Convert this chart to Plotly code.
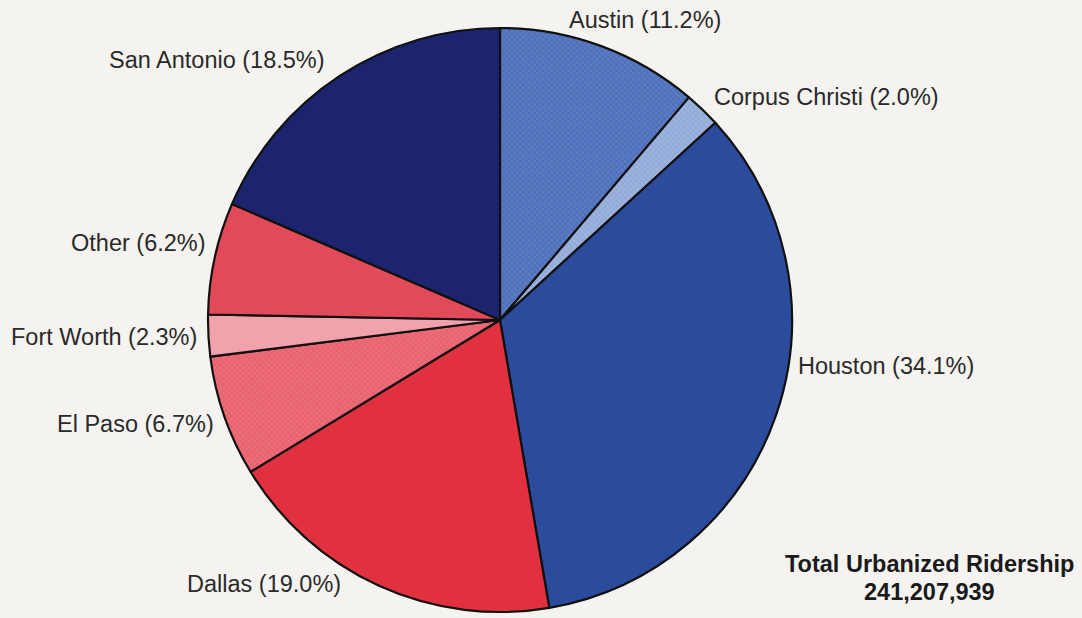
import plotly.graph_objects as go

cities = ["Austin", "Corpus Christi", "Houston", "Dallas", "El Paso",
          "Fort Worth", "Other", "San Antonio"]
shares = [11.2, 2.0, 34.1, 19.0, 6.7, 2.3, 6.2, 18.5]
total_label = "Total Urbanized Ridership"
total_value = "241,207,939"

colors = ["#4f71bb", "#93abd9", "#2b4b9d", "#e1313f", "#e9626f",
          "#f2a2ac", "#e24a5a", "#1c2470"]
pattern_shapes = ["x", "x", "", "", "x", "", "", ""]
pattern_fg = ["#7d97d0", "#b8c8e8", "#2b4b9d", "#e1313f", "#f08a94",
              "#f2a2ac", "#e24a5a", "#1c2470"]

W, H = 1082, 618
cx, cy, r = 500, 320, 292

fig = go.Figure(go.Pie(
    labels=cities,
    values=shares,
    sort=False,
    direction="clockwise",
    rotation=0,
    textinfo="none",
    hoverinfo="label+percent",
    showlegend=False,
    marker=dict(
        colors=colors,
        line=dict(color="#111111", width=2.2),
        pattern=dict(shape=pattern_shapes, fgcolor=pattern_fg,
                     size=4, solidity=0.35, fillmode="overlay"),
    ),
    domain=dict(x=[(cx - r) / W, (cx + r) / W],
                y=[(H - cy - r) / H, (H - cy + r) / H]),
))

# label anchor positions (pixels: x, y, xanchor)
label_pos = [
    (645, 20, "center"),
    (826, 97, "center"),
    (886, 366, "center"),
    (264, 584, "center"),
    (135, 424, "center"),
    (104, 337, "center"),
    (138, 243, "center"),
    (217, 60, "center"),
]

font = dict(family="Liberation Sans, Arial, sans-serif", size=23.5, color="#2a2a2a")
annotations = []
for name, val, (px, py, xa) in zip(cities, shares, label_pos):
    annotations.append(dict(
        x=px / W, y=1 - py / H, xref="paper", yref="paper",
        text=f"{name} ({val:.1f}%)", showarrow=False,
        xanchor=xa, yanchor="middle", font=font,
    ))

bold = dict(family="Liberation Sans, Arial, sans-serif", size=23.5, color="#1a1a1a")
annotations.append(dict(x=929 / W, y=1 - 564 / H, xref="paper", yref="paper",
                        text=f"<b>{total_label}</b>", showarrow=False,
                        xanchor="center", yanchor="middle", font=bold))
annotations.append(dict(x=929 / W, y=1 - 592 / H, xref="paper", yref="paper",
                        text=f"<b>{total_value}</b>", showarrow=False,
                        xanchor="center", yanchor="middle", font=bold))

fig.update_layout(
    width=W, height=H,
    margin=dict(l=0, r=0, t=0, b=0),
    paper_bgcolor="#f4f3ef",
    plot_bgcolor="#f4f3ef",
    annotations=annotations,
)

fig.write_html("out.html",
               config={"displayModeBar": False},
               post_script="document.body.style.margin='0';"
                           "document.body.style.overflow='hidden';"
                           "document.body.style.background='#f4f3ef';")
